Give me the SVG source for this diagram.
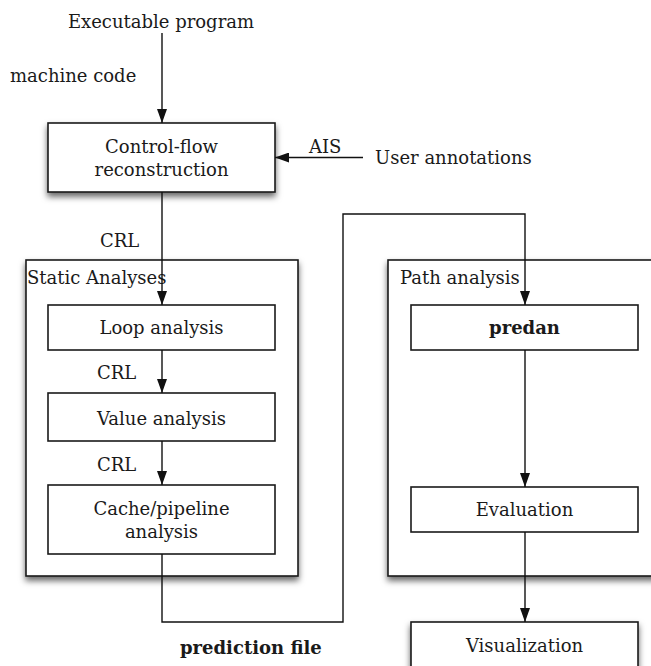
<svg xmlns="http://www.w3.org/2000/svg" width="651" height="666" viewBox="0 0 651 666">
  <style>
    text { font-family: "DejaVu Serif", "Liberation Serif", serif; font-size: 18px; fill: #1a1a1a; }
    .c { text-anchor: middle; }
    .b { font-weight: bold; }
    .box { fill: #fff; stroke: #1a1a1a; stroke-width: 1.6; }
    .wire { fill: none; stroke: #111; stroke-width: 1.4; }
  </style>
  <defs>
    <filter id="shadow" x="-10%" y="-10%" width="125%" height="130%">
      <feDropShadow dx="0" dy="4" stdDeviation="3" flood-color="#000" flood-opacity="0.6"/>
    </filter>
    <marker id="arrow" viewBox="0 0 14 10" refX="14" refY="5" markerWidth="14" markerHeight="10" markerUnits="userSpaceOnUse" orient="auto">
      <path d="M0,0 L14,5 L0,10 Z" fill="#111"/>
    </marker>
  </defs>

  <rect width="651" height="666" fill="#fff"/>

  <!-- containers -->
  <g id="static-analyses">
    <rect class="box" x="26" y="260" width="272" height="316" filter="url(#shadow)"/>
    <text x="27" y="284">Static Analyses</text>
  </g>
  <g id="path-analysis">
    <rect class="box" x="388" y="260" width="280" height="316" filter="url(#shadow)"/>
    <text x="400" y="284">Path analysis</text>
  </g>

  <!-- free labels -->
  <g id="executable-program">
    <text class="c" x="161" y="28">Executable program</text>
  </g>
  <g id="user-annotations">
    <text x="375" y="164">User annotations</text>
  </g>

  <!-- nodes -->
  <g id="control-flow">
    <rect class="box" x="48" y="123" width="227" height="69" filter="url(#shadow)"/>
    <text class="c" x="161.5" y="153">Control-flow</text>
    <text class="c" x="161.5" y="176">reconstruction</text>
  </g>
  <g id="loop-analysis">
    <rect class="box" x="48" y="305" width="227" height="45"/>
    <text class="c" x="161.5" y="334">Loop analysis</text>
  </g>
  <g id="value-analysis">
    <rect class="box" x="48" y="393" width="227" height="48"/>
    <text class="c" x="161.5" y="425">Value analysis</text>
  </g>
  <g id="cache-pipeline">
    <rect class="box" x="48" y="485" width="227" height="69"/>
    <text class="c" x="161.5" y="515">Cache/pipeline</text>
    <text class="c" x="161.5" y="538">analysis</text>
  </g>
  <g id="predan">
    <rect class="box" x="411" y="305" width="227" height="45"/>
    <text class="c b" x="524.5" y="334">predan</text>
  </g>
  <g id="evaluation">
    <rect class="box" x="411" y="487" width="227" height="45"/>
    <text class="c" x="524.5" y="516">Evaluation</text>
  </g>
  <g id="visualization">
    <rect class="box" x="411" y="622" width="227" height="60" filter="url(#shadow)"/>
    <text class="c" x="524.5" y="652">Visualization</text>
  </g>

  <!-- connectors -->
  <g id="connectors">
    <path class="wire" d="M162,33 V123" marker-end="url(#arrow)"/>
    <text x="10" y="82">machine code</text>
    <path class="wire" d="M363,157.5 H275" marker-end="url(#arrow)"/>
    <text x="309" y="153">AIS</text>
    <path class="wire" d="M162,192 V305" marker-end="url(#arrow)"/>
    <text x="100" y="247">CRL</text>
    <path class="wire" d="M162,350 V393" marker-end="url(#arrow)"/>
    <text x="97" y="379">CRL</text>
    <path class="wire" d="M162,441 V485" marker-end="url(#arrow)"/>
    <text x="97" y="471">CRL</text>
    <path class="wire" d="M162,554 V622 H343 V214 H525 V305" marker-end="url(#arrow)"/>
    <text class="b" x="180" y="654">prediction file</text>
    <path class="wire" d="M525,350 V487" marker-end="url(#arrow)"/>
    <path class="wire" d="M525,532 V622" marker-end="url(#arrow)"/>
  </g>
</svg>
